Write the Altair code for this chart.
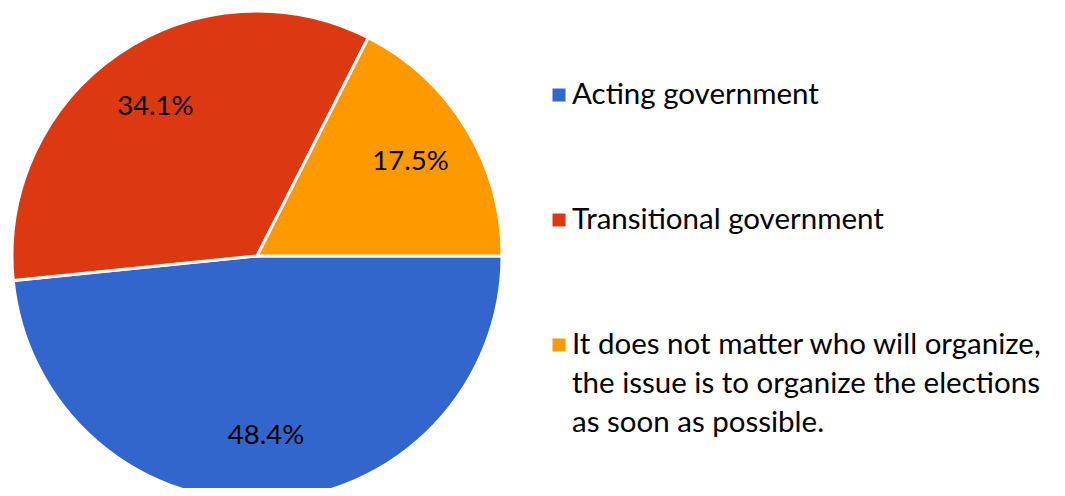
import altair as alt
import pandas as pd
import math

# ---- data ----
categories = [
    "Acting government",
    "Transitional government",
    "It does not matter who will organize, the issue is to organize the elections as soon as possible.",
]
values = [48.4, 34.1, 17.5]
legend_labels = [
    "Acting government",
    "Transitional government",
    "It does not matter who will organize,\nthe issue is to organize the elections\nas soon as possible.",
]
colors = ["#3366CC", "#DC3912", "#FF9900"]

df = pd.DataFrame({
    "category": categories,
    "value": values,
    "order": list(range(len(categories))),
    "legend": legend_labels,
})

FONT = "Lato"
FS_LEG = 29.5
FS_PCT = 27.5
CX, CY, R = 249, 248, 245

color_scale = alt.Scale(domain=categories, range=colors)
theta_scale = alt.Scale(range=[math.pi / 2, math.pi / 2 + 2 * math.pi])

base = alt.Chart(df).encode(
    theta=alt.Theta("value:Q", stack=True, scale=theta_scale),
    order=alt.Order("order:Q"),
)

arcs = base.mark_arc(outerRadius=R, stroke="white", strokeWidth=3).encode(
    color=alt.Color("category:N", scale=color_scale, legend=None),
    x=alt.value(CX),
    y=alt.value(CY),
)

pct = base.transform_calculate(
    label="format(datum.value, '.1f') + '%'"
).mark_text(radius=180, font=FONT, fontSize=FS_PCT, color="black").encode(
    text="label:N",
    x=alt.value(CX),
    y=alt.value(CY),
)

legend_y = alt.Y(
    "category:N",
    scale=alt.Scale(type="point", domain=categories, range=[87, 337], padding=0),
    axis=None,
)

leg_sym = alt.Chart(df).mark_point(shape="square", filled=True, size=169, opacity=1).encode(
    x=alt.value(551),
    y=legend_y,
    color=alt.Color("category:N", scale=color_scale, legend=None),
)

leg_txt = alt.Chart(df).transform_calculate(
    lines="split(datum.legend, '\\n')"
).mark_text(
    align="left", baseline="alphabetic", dy=9, font=FONT, fontSize=FS_LEG,
    lineHeight=39, color="black",
).encode(
    x=alt.value(564),
    y=legend_y,
    text="lines:N",
)

chart = alt.layer(arcs, pct, leg_sym, leg_txt).properties(
    width=1049, height=480, autosize=alt.AutoSizeParams(type="none"), padding=0,
).configure(background="white", view=alt.ViewConfig(stroke=None))

chart.save("out.html", embed_options={"renderer": "svg", "actions": False})
